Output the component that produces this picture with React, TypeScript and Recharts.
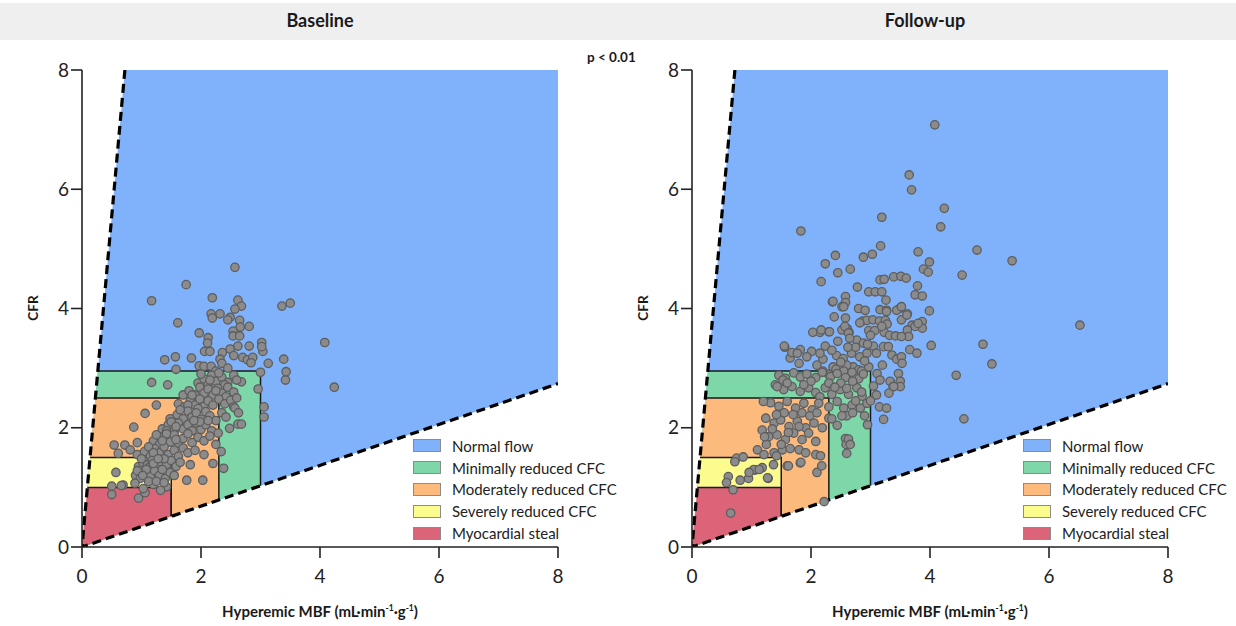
import { ComposedChart, Area, Line, Scatter, XAxis, YAxis } from 'recharts';

// boundary lines of the CFC diagram (CFR as a function of hyperemic MBF)
const lowerSlope = 0.3425;
const upperSlope = 11.1;

const axisTicks = [0, 2, 4, 6, 8];

const regions = [
  { name: 'Normal flow', xMax: 8, yMax: 8, color: '#7fb2fb' },
  { name: 'Minimally reduced CFC', xMax: 3, yMax: 2.95, color: '#7dd7a9' },
  { name: 'Moderately reduced CFC', xMax: 2.3, yMax: 2.5, color: '#fdba7d' },
  { name: 'Severely reduced CFC', xMax: 1.5, yMax: 1.5, color: '#fcfb8e' },
  { name: 'Myocardial steal', xMax: 1.5, yMax: 1, color: '#db6478' },
];

const baselinePoints: [number, number][] = [
  // upper scatter
  [2.57, 4.69], [1.75, 4.4], [1.17, 4.13], [2.19, 4.18], [2.62, 4.14], [2.68, 4.04], [2.57, 3.99],
  [3.36, 4.04], [3.5, 4.09], [2.17, 3.91], [2.32, 3.91], [2.19, 3.84], [2.49, 3.85], [2.45, 3.81],
  [2.65, 3.8], [1.61, 3.76], [2.66, 3.69], [2.81, 3.7], [1.97, 3.59], [2.54, 3.62], [2.54, 3.54],
  [2.65, 3.54], [2.12, 3.51], [2.11, 3.42], [3.02, 3.43], [4.08, 3.43], [2.62, 3.37], [2.81, 3.37],
  [2.06, 3.28], [2.15, 3.28], [2.36, 3.26], [2.49, 3.32], [3.04, 3.28], [1.39, 3.14], [1.57, 3.19],
  [1.84, 3.17], [2.32, 3.15], [2.55, 3.21], [2.7, 3.18], [2.78, 3.14], [2.87, 3.18], [3.39, 3.15],
  [3.42, 2.8], [2.35, 3.08], [3.13, 3.08], [3.02, 3.36], [4.24, 2.68], [3.06, 2.35], [3.06, 2.18],
  // 2.7 - 3.1
  [1.58, 2.98], [1.97, 3.04], [2.05, 3.03], [2.17, 3.03], [2.25, 2.95], [2.45, 3.0], [3.0, 2.93],
  [2.84, 3.09], [1.17, 2.76], [1.44, 2.72], [1.95, 2.75], [2.05, 2.82], [2.12, 2.72], [2.18, 2.88],
  [2.25, 2.78], [2.35, 2.85], [2.45, 2.76], [2.55, 2.88], [2.68, 2.77], [3.43, 2.94], [2.0, 2.9], [2.6, 2.8],
  [2.3, 2.92], [2.4, 2.72], [2.15, 2.8],
  // 2.3 - 2.7
  [1.7, 2.55], [1.8, 2.62], [1.9, 2.55], [1.98, 2.68], [2.05, 2.58], [2.12, 2.65], [2.2, 2.55],
  [2.28, 2.66], [2.35, 2.58], [2.45, 2.68], [2.55, 2.6], [2.42, 2.52], [2.96, 2.65], [1.25, 2.38],
  [1.62, 2.4], [1.72, 2.35], [1.82, 2.45], [1.9, 2.38], [1.98, 2.48], [2.05, 2.36], [2.12, 2.45],
  [2.2, 2.38], [2.3, 2.48], [2.4, 2.4], [2.5, 2.46], [2.55, 2.35], [1.95, 2.32], [1.85, 2.55],
  [2.25, 2.62], [2.6, 2.5], [1.78, 2.38],
  // 1.9 - 2.3
  [1.06, 2.24], [1.48, 2.15], [1.6, 2.22], [1.7, 2.15], [1.78, 2.28], [1.85, 2.18], [1.92, 2.25],
  [2.0, 2.14], [2.08, 2.27], [2.15, 2.2], [2.25, 2.12], [2.35, 2.25], [2.57, 2.33], [2.63, 2.25],
  [1.65, 2.3], [2.42, 2.18], [0.87, 2.01], [1.35, 1.98], [1.45, 2.05], [1.55, 1.95], [1.62, 2.08],
  [1.7, 1.98], [1.78, 2.05], [1.85, 1.95], [1.92, 2.08], [2.0, 1.97], [2.08, 2.05], [2.18, 1.95],
  [2.29, 1.91], [2.48, 1.99], [2.62, 2.06], [2.68, 2.06], [1.5, 2.1], [1.98, 2.1], [1.58, 2.02],
  [1.88, 2.12], [2.12, 2.12], [1.42, 1.95],
  // 1.5 - 1.9
  [0.93, 1.75], [0.54, 1.71], [0.72, 1.71], [1.2, 1.78], [1.3, 1.72], [1.38, 1.85], [1.48, 1.76],
  [1.55, 1.88], [1.62, 1.74], [1.7, 1.82], [1.78, 1.9], [1.85, 1.75], [1.95, 1.84], [2.05, 1.78],
  [2.15, 1.86], [1.42, 1.9], [1.25, 1.88], [2.25, 1.72], [0.93, 1.55], [1.05, 1.6], [1.15, 1.52],
  [1.22, 1.65], [1.3, 1.58], [1.38, 1.68], [1.45, 1.55], [1.55, 1.62], [1.62, 1.52], [1.7, 1.66],
  [1.78, 1.58], [1.9, 1.62], [2.34, 1.6], [0.61, 1.57], [0.81, 1.63], [1.12, 1.68], [2.05, 1.55],
  [1.35, 1.78], [1.58, 1.8], [1.2, 1.58],
  // 1.1 - 1.5
  [0.95, 1.35], [1.02, 1.42], [1.1, 1.38], [1.18, 1.45], [1.25, 1.35], [1.33, 1.42], [1.42, 1.38],
  [1.5, 1.45], [1.58, 1.35], [1.0, 1.48], [1.38, 1.48], [1.65, 1.42], [1.82, 1.38], [2.2, 1.4],
  [2.38, 1.32], [1.12, 1.33], [0.9, 1.2], [0.98, 1.15], [1.05, 1.25], [1.15, 1.18], [1.22, 1.28],
  [1.3, 1.2], [1.4, 1.15], [1.48, 1.25], [1.08, 1.3], [0.93, 1.28], [1.35, 1.3], [1.55, 1.2],
  [0.57, 1.25], [1.76, 1.12], [2.03, 1.12], [1.2, 1.4], [1.28, 1.48], [1.02, 1.2],
  // 0.8 - 1.1
  [0.95, 0.82], [1.06, 0.91], [1.03, 0.98], [0.89, 1.07], [1.42, 1.01], [1.2, 1.05], [1.32, 0.95],
  [1.12, 1.1], [0.69, 1.04], [0.5, 1.02], [0.5, 0.88], [0.66, 1.03], [1.25, 1.1], [1.38, 1.08],
];

const followUpPoints: [number, number][] = [
  // upper scatter
  [4.08, 7.08], [3.65, 6.24], [3.69, 5.99], [4.24, 5.68], [4.18, 5.37], [3.19, 5.53], [1.83, 5.3],
  [3.17, 5.05], [4.79, 4.98], [5.38, 4.8], [3.8, 4.95], [2.41, 4.89], [2.24, 4.75], [2.88, 4.86],
  [3.03, 4.91], [2.45, 4.6], [2.66, 4.66], [3.99, 4.78], [3.89, 4.66], [3.97, 4.61], [4.54, 4.56],
  [2.17, 4.45], [3.16, 4.48], [3.23, 4.49], [3.39, 4.53], [3.51, 4.54], [3.6, 4.51], [2.78, 4.36],
  [3.79, 4.38], [2.97, 4.28], [3.08, 4.28], [3.19, 4.28], [3.75, 4.23], [3.87, 4.21], [2.58, 4.2],
  [3.26, 4.14], [2.36, 4.11], [2.58, 4.1], [2.52, 4.03], [2.8, 4.0], [2.91, 3.97], [3.16, 3.98],
  [3.27, 3.97], [3.99, 3.96], [3.49, 4.0], [3.44, 3.97], [3.62, 3.91], [2.39, 3.86], [2.58, 3.84],
  [2.87, 3.79], [2.94, 3.8], [3.04, 3.81], [3.15, 3.79], [3.25, 3.8], [3.28, 3.74], [3.87, 3.78],
  [3.87, 3.67], [3.7, 3.72], [2.15, 3.6], [2.3, 3.61], [2.52, 3.64], [2.61, 3.66], [2.64, 3.6],
  [2.97, 3.63], [3.07, 3.63], [3.23, 3.6], [3.32, 3.55], [3.42, 3.54], [3.62, 3.64], [3.64, 3.53],
  [4.02, 3.38], [4.89, 3.4], [5.04, 3.07], [6.52, 3.72], [4.44, 2.88], [4.57, 2.15],
  [3.52, 3.81], [3.61, 3.89], [3.52, 3.53], [3.75, 3.7], [3.8, 3.75], [3.27, 3.95], [3.19, 3.7],
  [2.82, 3.76], [2.55, 4.03], [2.37, 4.12], [3.52, 4.03],
  // 2.9 - 3.6
  [1.56, 3.35], [1.82, 3.31], [1.65, 3.17], [1.8, 3.08], [2.01, 3.28], [2.24, 3.37], [2.57, 3.7],
  [2.63, 3.59], [2.77, 3.47], [2.88, 3.42], [3.05, 3.37], [2.68, 3.25], [2.82, 3.19], [2.94, 3.25],
  [2.43, 3.21], [2.54, 3.16], [2.37, 3.02], [2.29, 2.9], [2.71, 3.02], [2.8, 2.97], [2.97, 3.02],
  [3.11, 2.91], [3.22, 3.36], [3.3, 3.36], [3.36, 3.22], [3.44, 3.15], [3.52, 3.19], [3.53, 3.08],
  [3.66, 3.31], [3.78, 3.25], [3.16, 2.8], [3.33, 2.78], [3.47, 2.91], [3.5, 2.78], [3.38, 2.69],
  [3.5, 2.69], [2.03, 3.6], [2.17, 3.64], [2.31, 3.61], [1.55, 3.37], [1.68, 3.26], [1.77, 3.25],
  [1.93, 3.19], [2.1, 3.05], [2.2, 3.15], [2.6, 3.05], [2.75, 3.35], [2.9, 3.12], [3.1, 3.25],
  [2.45, 3.45], [2.35, 3.3], [2.65, 3.5], [3.0, 3.55], [2.2, 2.95], [2.85, 2.95], [2.5, 3.1],
  [2.62, 3.35], [2.42, 2.98], [2.95, 3.4], [2.15, 3.25], [3.2, 3.05], [2.55, 2.95],
  // 2.5 - 2.95
  [1.46, 2.88], [1.57, 2.83], [1.71, 2.92], [1.82, 2.85], [1.93, 2.9], [2.08, 2.84], [2.19, 2.93],
  [2.33, 2.86], [2.44, 2.91], [2.58, 2.84], [2.69, 2.93], [2.8, 2.82], [2.88, 2.9],
  [1.4, 2.72], [1.54, 2.64], [1.68, 2.69], [1.82, 2.61], [1.96, 2.67], [2.08, 2.59], [2.24, 2.67],
  [2.35, 2.56], [2.49, 2.64], [2.63, 2.56], [2.77, 2.67], [2.86, 2.53], [2.5, 2.75], [3.05, 2.7],
  [2.85, 2.6], [1.43, 2.69], [1.53, 2.8], [1.6, 2.75], [3.1, 2.55], [3.31, 2.58], [3.39, 2.69],
  [2.0, 2.78], [2.3, 2.75], [2.7, 2.78], [2.15, 2.52], [2.4, 2.68], [1.88, 2.72], [2.6, 2.66],
  // 1.9 - 2.45
  [1.32, 2.42], [1.46, 2.36], [1.6, 2.44], [1.74, 2.33], [1.88, 2.41], [2.02, 2.3], [2.13, 2.41],
  [2.3, 2.35], [2.44, 2.44], [2.55, 2.33], [2.69, 2.38], [2.83, 2.33], [2.94, 2.41], [1.2, 2.44],
  [1.24, 2.16], [1.38, 2.08], [1.49, 2.13], [1.63, 2.02], [1.77, 2.11], [1.91, 2.0], [2.05, 2.08],
  [2.19, 2.0], [2.3, 2.16], [2.44, 2.04], [2.75, 2.45], [2.6, 2.2], [2.35, 2.15], [2.9, 2.2],
  [3.0, 2.45], [2.95, 2.05], [3.15, 2.35], [3.22, 2.14], [3.27, 2.33], [1.55, 2.25], [1.7, 2.22],
  [1.85, 2.25], [1.98, 2.2], [2.1, 2.25], [1.42, 2.22], [1.8, 2.02], [2.52, 2.2], [2.7, 2.25],
  // 1.3 - 1.95
  [1.18, 1.96], [1.29, 1.85], [1.43, 1.88], [1.57, 1.8], [1.71, 1.91], [1.85, 1.8], [1.96, 1.91],
  [2.08, 1.77], [2.58, 1.82], [2.59, 1.72], [2.63, 1.81], [2.66, 1.72], [1.1, 1.63], [1.21, 1.55],
  [1.38, 1.58], [1.52, 1.63], [1.8, 1.63], [1.91, 1.58], [2.08, 1.55], [1.82, 1.41], [1.6, 1.36],
  [2.1, 1.25], [2.18, 1.36], [2.16, 1.53], [2.6, 1.57], [1.25, 1.72], [1.5, 1.72], [1.65, 1.65],
  [1.35, 1.98], [1.62, 1.92], [1.22, 1.85],
  // lower
  [0.75, 1.49], [0.86, 1.51], [0.72, 1.43], [1.06, 1.29], [1.18, 1.33], [0.95, 1.15], [0.81, 1.12],
  [0.61, 1.18], [0.58, 1.08], [0.69, 0.96], [1.28, 1.15], [1.37, 1.38], [0.65, 0.57], [2.22, 0.76],
  [1.04, 1.3], [0.96, 1.25], [1.13, 1.3], [1.27, 1.16], [1.42, 1.53], [1.62, 1.36], [1.83, 1.42],
];

const areaData = (r: { xMax: number; yMax: number }) => [
  { x: 0, range: [0, 0] },
  { x: r.yMax / upperSlope, range: [(lowerSlope * r.yMax) / upperSlope, r.yMax] },
  { x: r.xMax, range: [lowerSlope * r.xMax, r.yMax] },
];

const edgeData = (r: { xMax: number; yMax: number }) => [
  { x: r.yMax / upperSlope, y: r.yMax },
  { x: r.xMax, y: r.yMax },
  { x: r.xMax, y: lowerSlope * r.xMax },
];

const boundaryData = [
  { x: 8 / upperSlope, y: 8 },
  { x: 0, y: 0 },
  { x: 8, y: 8 * lowerSlope },
];

const FONT = 'Lato, "Open Sans", sans-serif';
const CHART_W = 618;
const CHART_H = 626;
const PANEL_OFFSET = 610;

const Dot = (p: any) => (
  <circle cx={p.cx} cy={p.cy} r={4.2} fill="#8b8b8b" stroke="#5e5e5e" strokeWidth={1.3} />
);

function Panel({ points }: { points: [number, number][] }) {
  const data = points.map(([x, y]) => ({ x, y }));
  return (
    <ComposedChart
      width={CHART_W}
      height={CHART_H}
      margin={{ top: 70, right: 60, bottom: 49, left: 42 }}
      style={{ fontFamily: FONT }}
    >
      <XAxis
        type="number"
        dataKey="x"
        domain={[0, 8]}
        ticks={axisTicks}
        allowDataOverflow
        height={30}
        tickSize={11}
        tickMargin={12}
        axisLine={{ stroke: '#222', strokeWidth: 1.6 }}
        tickLine={{ stroke: '#222', strokeWidth: 1.6 }}
        tick={{ fill: '#222', fontSize: 19 }}
      />
      <YAxis
        type="number"
        dataKey="y"
        domain={[0, 8]}
        ticks={axisTicks}
        allowDataOverflow
        width={40}
        tickSize={11}
        tickMargin={2}
        axisLine={{ stroke: '#222', strokeWidth: 1.6 }}
        tickLine={{ stroke: '#222', strokeWidth: 1.6 }}
        tick={{ fill: '#222', fontSize: 19 }}
      />
      {regions.map((r) => (
        <Area
          key={r.name}
          data={areaData(r)}
          dataKey="range"
          type="linear"
          fill={r.color}
          fillOpacity={1}
          stroke="none"
          isAnimationActive={false}
        />
      ))}
      {regions.slice(1).map((r) => (
        <Line
          key={'edge-' + r.name}
          data={edgeData(r)}
          dataKey="y"
          type="linear"
          stroke="#1a1a1a"
          strokeWidth={1.5}
          dot={false}
          activeDot={false}
          isAnimationActive={false}
        />
      ))}
      <Line
        data={boundaryData}
        dataKey="y"
        type="linear"
        stroke="#000"
        strokeWidth={3.2}
        strokeDasharray="9 5"
        dot={false}
        activeDot={false}
        isAnimationActive={false}
      />
      <Scatter data={data} shape={Dot} isAnimationActive={false} />
    </ComposedChart>
  );
}

function LegendBox({ left }: { left: number }) {
  return (
    <div style={{ position: 'absolute', left, top: 435, fontFamily: FONT }}>
      {regions.map((r) => (
        <div key={r.name} style={{ display: 'flex', alignItems: 'center', height: 21.8 }}>
          <div
            style={{
              width: 26,
              height: 11,
              background: r.color,
              border: '1px solid #8c8c8c',
              marginRight: 11,
            }}
          />
          <span style={{ fontSize: 15, color: '#222', whiteSpace: 'nowrap' }}>{r.name}</span>
        </div>
      ))}
    </div>
  );
}

const axisTitle = (
  <span>
    Hyperemic MBF (mL·min<sup style={{ fontSize: 8.5 }}>-1</sup>·g<sup style={{ fontSize: 8.5 }}>-1</sup>)
  </span>
);

export default function App() {
  const textBase = { position: 'absolute' as const, fontFamily: FONT, color: '#1a1a1a' };
  return (
    <div
      style={{
        position: 'absolute',
        left: 0,
        top: 0,
        width: 1236,
        height: 626,
        background: '#fff',
        overflow: 'hidden',
      }}
    >
      <div style={{ position: 'absolute', left: 0, top: 3, width: 1236, height: 37, background: '#efefef' }} />
      <div style={{ ...textBase, left: 170, top: 9, width: 300, textAlign: 'center', fontSize: 18, fontWeight: 700 }}>
        Baseline
      </div>
      <div style={{ ...textBase, left: 775, top: 9, width: 300, textAlign: 'center', fontSize: 18, fontWeight: 700 }}>
        Follow-up
      </div>
      <div style={{ position: 'absolute', left: 0, top: 0 }}>
        <Panel points={baselinePoints} />
      </div>
      <div style={{ position: 'absolute', left: PANEL_OFFSET, top: 0 }}>
        <Panel points={followUpPoints} />
      </div>
      <LegendBox left={413} />
      <LegendBox left={413 + PANEL_OFFSET} />
      <div style={{ ...textBase, left: 587, top: 49, fontSize: 13.5, fontWeight: 700 }}>p &lt; 0.01</div>
      {[0, PANEL_OFFSET].map((off) => (
        <div key={'cfr' + off}>
          <div
            style={{
              ...textBase,
              left: off + 13,
              top: 300,
              width: 40,
              textAlign: 'center',
              fontSize: 13.5,
              fontWeight: 700,
              transform: 'rotate(-90deg)',
            }}
          >
            CFR
          </div>
          <div
            style={{
              ...textBase,
              left: off + 170,
              top: 602,
              width: 300,
              textAlign: 'center',
              fontSize: 15,
              fontWeight: 700,
              whiteSpace: 'nowrap',
            }}
          >
            {axisTitle}
          </div>
        </div>
      ))}
    </div>
  );
}
